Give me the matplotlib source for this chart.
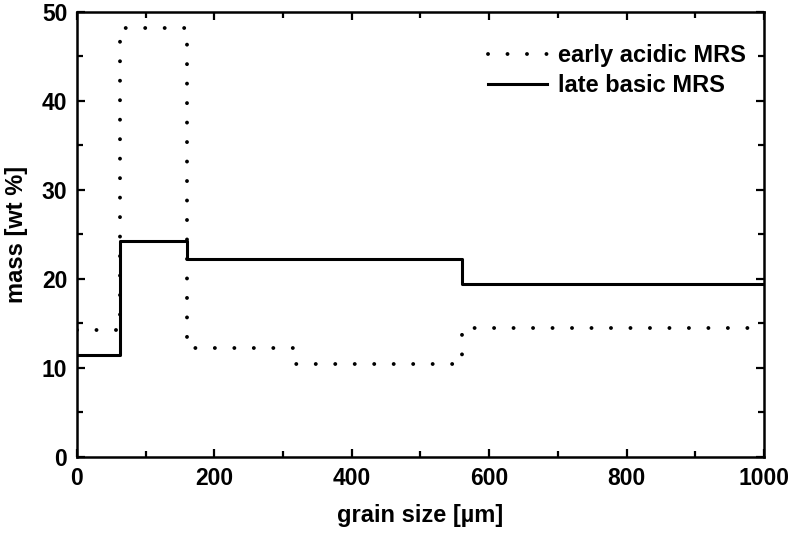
import matplotlib
matplotlib.use("Agg")
import matplotlib.pyplot as plt
from matplotlib.ticker import MultipleLocator
from matplotlib.lines import Line2D

plt.rcParams['font.family'] = ['Liberation Sans', 'DejaVu Sans']
plt.rcParams['font.weight'] = 'bold'

# step edges (grain size, µm) and values (wt %)
early_x = [0, 63, 160, 315, 560, 1000]
early_y = [14.3, 48.2, 12.3, 10.5, 14.5]
late_x = [0, 63, 160, 560, 1000]
late_y = [11.5, 24.3, 22.2, 19.4]

xticks = [0, 200, 400, 600, 800, 1000]
yticks = [0, 10, 20, 30, 40, 50]

DOT = (0, (0.01, 5.0))

fig = plt.figure(figsize=(7.92, 5.35), dpi=100)
ax = fig.add_axes([0.0972, 0.1458, 0.8674, 0.8318])

ax.step(early_x, early_y + [early_y[-1]], where='post', color='black',
        linewidth=2.8, linestyle=DOT, dash_capstyle='round')
ax.step(late_x, late_y + [late_y[-1]], where='post', color='black',
        linewidth=2.2)

ax.set_xlim(0, 1000)
ax.set_ylim(0, 50)
ax.set_xticks(xticks)
ax.set_yticks(yticks)
ax.xaxis.set_minor_locator(MultipleLocator(100))
ax.yaxis.set_minor_locator(MultipleLocator(5))
ax.tick_params(which='both', direction='in', top=True, right=True, width=1.6,
               labelsize=16.5, pad=7)
ax.tick_params(which='major', length=6)
ax.tick_params(which='minor', length=4)
for lab in ax.get_xticklabels() + ax.get_yticklabels():
    lab.set_fontweight('bold')
for s in ax.spines.values():
    s.set_linewidth(1.8)

ax.set_xlabel('grain size [µm]', fontsize=17, fontweight='bold', labelpad=10)
ax.set_ylabel('mass [wt %]', fontsize=17, fontweight='bold', labelpad=10)

h1 = Line2D([], [], color='black', linewidth=2.8, linestyle=DOT,
            dash_capstyle='round')
h2 = Line2D([], [], color='black', linewidth=2.2)
leg = ax.legend([h1, h2], ['early acidic MRS', 'late basic MRS'],
                loc='upper right', bbox_to_anchor=(1.02, 1.0), frameon=False,
                prop={'weight': 'bold', 'size': 17}, handlelength=2.5,
                handletextpad=0.45, borderaxespad=0.85, labelspacing=0.3,
                borderpad=0.5)

fig.savefig('out.png', dpi=100)
